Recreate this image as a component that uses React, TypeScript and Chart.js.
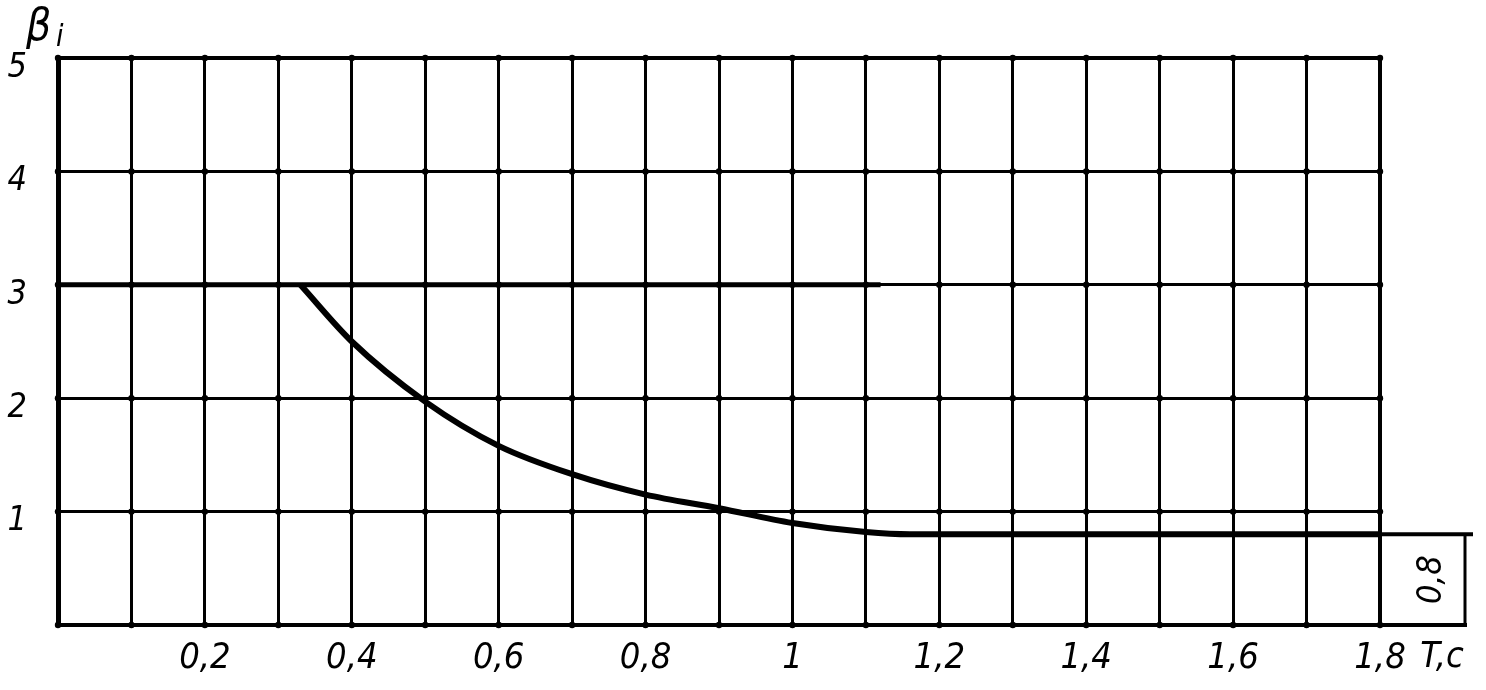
import React, { useEffect, useRef } from "react";
import { Chart, registerables } from "chart.js";

Chart.register(...registerables);

// ---- data ----
const xMin = 0;
const xMax = 1.8;
const xStep = 0.1;
const yMin = 0;
const yMax = 5;
const yStep = 1;

const xTickValues = [0.2, 0.4, 0.6, 0.8, 1.0, 1.2, 1.4, 1.6, 1.8];
const xTickLabels = ["0,2", "0,4", "0,6", "0,8", "1", "1,2", "1,4", "1,6", "1,8"];
const yTickValues = [1, 2, 3, 4, 5];
const yTickLabels = ["1", "2", "3", "4", "5"];

// curve beta(T)
const curveT = [0.33, 0.4, 0.5, 0.6, 0.7, 0.8, 0.9, 1.0, 1.1, 1.16, 1.8];
const curveBeta = [3, 2.5, 1.97, 1.58, 1.33, 1.15, 1.03, 0.9, 0.82, 0.8, 0.8];

// plateau beta = 3
const plateauT = [0, 1.12];
const plateauBeta = [3, 3];

const floorValue = 0.8;
const floorLabel = "0,8";
const xAxisTitle = "T,c";
const yAxisTitle = "β";
const yAxisSub = "i";

const FONT = "'DejaVu Sans Condensed', 'Liberation Sans Narrow', 'DejaVu Sans', sans-serif";

function near(a: number, b: number) {
  return Math.abs(a - b) < 1e-6;
}

const extrasPlugin = {
  id: "extras",
  afterDatasetsDraw(chart: any) {
    const { ctx, chartArea } = chart;
    const x = chart.scales.x;
    const y = chart.scales.y;
    ctx.save();
    ctx.fillStyle = "#000";
    ctx.strokeStyle = "#000";
    // intersection dots
    for (const xt of x.ticks) {
      for (const yt of y.ticks) {
        const px = x.getPixelForValue(xt.value);
        const py = y.getPixelForValue(yt.value);
        ctx.beginPath();
        ctx.arc(px, py, 3.2, 0, Math.PI * 2);
        ctx.fill();
      }
    }
    // right box with floor value
    const xr = chartArea.right;
    const xb = xr + 85;
    const yf = y.getPixelForValue(floorValue);
    const y0 = y.getPixelForValue(0);
    ctx.lineCap = "butt";
    ctx.lineWidth = 4;
    ctx.beginPath();
    ctx.moveTo(xr, yf);
    ctx.lineTo(xb + 8, yf);
    ctx.stroke();
    ctx.lineWidth = 3;
    ctx.beginPath();
    ctx.moveTo(xb, yf);
    ctx.lineTo(xb, y0);
    ctx.stroke();
    ctx.lineWidth = 4;
    ctx.beginPath();
    ctx.moveTo(xr, y0);
    ctx.lineTo(xb + 2, y0);
    ctx.stroke();

    ctx.save();
    ctx.translate(xr + 52, (yf + y0) / 2);
    ctx.rotate(-Math.PI / 2);
    ctx.font = `italic 34px ${FONT}`;
    ctx.textAlign = "center";
    ctx.textBaseline = "middle";
    ctx.fillText(floorLabel, 0, 0);
    ctx.restore();

    // axis titles
    ctx.font = `italic 36px ${FONT}`;
    ctx.textAlign = "center";
    ctx.textBaseline = "middle";
    ctx.fillText(xAxisTitle, xr + 62, y0 + 33);

    ctx.textAlign = "left";
    ctx.textBaseline = "alphabetic";
    ctx.font = `italic 44px ${FONT}`;
    ctx.fillText(yAxisTitle, 26, 40);
    ctx.font = `italic 30px ${FONT}`;
    ctx.fillText(yAxisSub, 56, 46);
    ctx.restore();
  },
};

export default function App() {
  const ref = useRef<HTMLCanvasElement | null>(null);

  useEffect(() => {
    if (!ref.current) return;
    const chart = new Chart(ref.current, {
      type: "line",
      data: {
        datasets: [
          {
            label: "plateau",
            data: plateauT.map((t, i) => ({ x: t, y: plateauBeta[i] })),
            borderColor: "#000",
            borderWidth: 5,
            pointRadius: 0,
            tension: 0,
          },
          {
            label: "beta",
            data: curveT.map((t, i) => ({ x: t, y: curveBeta[i] })),
            borderColor: "#000",
            borderWidth: 6,
            pointRadius: 0,
            cubicInterpolationMode: "monotone",
          },
        ],
      },
      options: {
        responsive: false,
        animation: false,
        layout: { padding: { top: 58, right: 106, left: 0, bottom: 0 } },
        plugins: { legend: { display: false }, tooltip: { enabled: false } },
        scales: {
          x: {
            type: "linear",
            min: xMin,
            max: xMax,
            afterFit: (s: any) => {
              s.height = 65;
            },
            ticks: {
              stepSize: xStep,
              autoSkip: false,
              maxRotation: 0,
              padding: 12,
              color: "#000",
              font: { family: FONT, size: 36, style: "italic" },
              callback: (v: any) => {
                const idx = xTickValues.findIndex((t) => near(t, Number(v)));
                return idx >= 0 ? xTickLabels[idx] : "";
              },
            },
            grid: {
              color: "#000",
              drawTicks: false,
              lineWidth: (c: any) => (c.tick && near(c.tick.value, xMax) ? 4 : 3),
            },
            border: { color: "#000", width: 4 },
          },
          y: {
            type: "linear",
            min: yMin,
            max: yMax,
            afterFit: (s: any) => {
              s.width = 58;
            },
            ticks: {
              stepSize: yStep,
              autoSkip: false,
              padding: 31,
              labelOffset: 10,
              color: "#000",
              font: { family: FONT, size: 34, style: "italic" },
              callback: (v: any) => {
                const idx = yTickValues.findIndex((t) => near(t, Number(v)));
                return idx >= 0 ? yTickLabels[idx] : "";
              },
            },
            grid: {
              color: "#000",
              drawTicks: false,
              lineWidth: (c: any) => (c.tick && near(c.tick.value, yMax) ? 4 : 3),
            },
            border: { color: "#000", width: 5 },
          },
        },
      },
      plugins: [extrasPlugin],
    } as any);
    return () => chart.destroy();
  }, []);

  return (
    <div style={{ position: "absolute", left: 0, top: 0, width: 1486, height: 690, background: "#fff" }}>
      <canvas ref={ref} width={1486} height={690} />
    </div>
  );
}
